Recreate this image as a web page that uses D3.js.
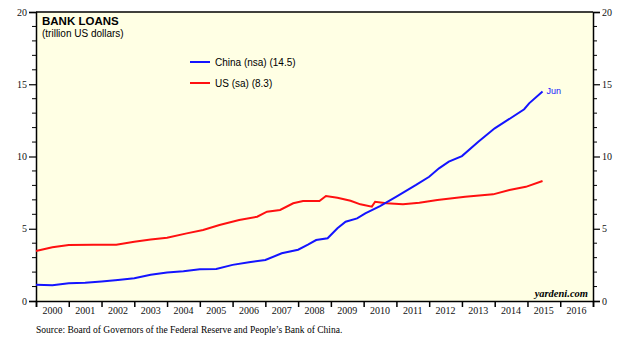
<!DOCTYPE html>
<html>
<head>
<meta charset="utf-8">
<title>Bank Loans</title>
<style type="text/css">
body { margin:0; background:#fff; }
.axis text { font-family:"Liberation Serif","Times New Roman",serif; font-size:10px; fill:#111; }
.axis path, .axis line { stroke:#000; }
.title { font-family:"Liberation Sans",Arial,sans-serif; font-weight:bold; font-size:11.5px; }
.subtitle, .legend text { font-family:"Liberation Sans",Arial,sans-serif; font-size:10px; }
.source { font-family:"Liberation Serif","Times New Roman",serif; font-size:9.5px; }
.brand { font-family:"Liberation Serif","Times New Roman",serif; font-size:10.5px; font-weight:bold; font-style:italic; }
</style>
</head>
<body>
<div id="chart"></div>
<script src="https://cdn.jsdelivr.net/npm/d3@7/dist/d3.min.js"></script>
<script type="text/javascript">

// China bank loans, trillion USD (nsa) - [decimal year, value]
var china = [
	[2000.0,1.12],[2000.5,1.09],[2001.0,1.22],[2001.5,1.27],[2002.0,1.35],[2002.5,1.45],
	[2003.0,1.57],[2003.5,1.82],[2004.0,1.98],[2004.5,2.06],[2005.0,2.2],[2005.5,2.22],
	[2006.0,2.5],[2006.5,2.68],[2007.0,2.84],[2007.5,3.3],[2008.0,3.55],[2008.3,3.9],
	[2008.55,4.22],[2008.9,4.34],[2009.2,5.03],[2009.45,5.49],[2009.8,5.72],[2010.05,6.07],
	[2010.5,6.57],[2011.0,7.22],[2011.6,8.03],[2012.0,8.6],[2012.3,9.18],[2012.6,9.64],
	[2013.0,10.03],[2013.5,11.02],[2014.0,11.95],[2014.4,12.53],[2014.9,13.27],[2015.05,13.68],
	[2015.46,14.5]
];

// US bank loans, trillion USD (sa)
var us = [
	[2000.0,3.46],[2000.5,3.72],[2001.0,3.88],[2001.75,3.9],[2002.45,3.9],[2003.0,4.1],
	[2003.5,4.25],[2004.0,4.38],[2004.6,4.68],[2005.1,4.91],[2005.6,5.26],[2006.2,5.6],
	[2006.75,5.83],[2007.05,6.18],[2007.45,6.3],[2007.85,6.76],[2008.15,6.92],[2008.65,6.92],
	[2008.85,7.27],[2009.2,7.15],[2009.6,6.94],[2009.9,6.69],[2010.25,6.53],[2010.35,6.87],
	[2010.7,6.76],[2011.2,6.69],[2011.7,6.8],[2012.25,6.99],[2013.1,7.22],[2013.95,7.38],
	[2014.45,7.68],[2014.95,7.9],[2015.46,8.3]
];

var years = d3.range(2000, 2017);
var yTicks = [0, 5, 10, 15, 20];
var legendItems = [
	{label:"China (nsa) (14.5)", color:"#1414ff"},
	{label:"US (sa) (8.3)", color:"#ff1010"}
];

var W = 640, H = 343;
var margin = {top:12, right:47, bottom:42, left:36};
var width = W - margin.left - margin.right,
	height = H - margin.top - margin.bottom;

var svg = d3.select("#chart").append("svg")
	.attr("width", W)
	.attr("height", H);

var g = svg.append("g")
	.attr("transform", "translate(" + margin.left + "," + margin.top + ")");

var x = d3.scaleLinear().domain([2000, 2017]).range([0, width]);
var y = d3.scaleLinear().domain([0, 20]).range([height, 0]);

g.append("rect")
	.attr("width", width)
	.attr("height", height)
	.attr("fill", "#ffffe4");

// minor ticks every 1, major every 5
var minor = d3.range(0, 21).filter(function(d){ return d % 5 != 0; });

function yAxis(side){
	var ax = (side == "left" ? d3.axisLeft(y) : d3.axisRight(y))
		.tickValues(yTicks).tickSize(7).tickPadding(2).tickFormat(d3.format("d"));
	var a = g.append("g").attr("class", "axis")
		.attr("transform", side == "left" ? null : "translate(" + width + ",0)")
		.call(ax);
	a.select(".domain").attr("stroke-width", 1.5);
	a.selectAll(".tick line").attr("stroke-width", 1.2);
	a.selectAll(".minor").data(minor).enter().append("line")
		.attr("class", "minor")
		.attr("x1", 0)
		.attr("x2", side == "left" ? -4 : 4)
		.attr("y1", function(d){ return y(d); })
		.attr("y2", function(d){ return y(d); })
		.attr("stroke", "#000");
}
yAxis("left");
yAxis("right");

// top frame
g.append("line")
	.attr("x1", 0).attr("x2", width)
	.attr("y1", 0).attr("y2", 0)
	.attr("stroke", "#000").attr("stroke-width", 1.5);

// bottom axis: ticks at year boundaries, labels centred in each year
var xa = g.append("g").attr("class", "axis")
	.attr("transform", "translate(0," + height + ")")
	.call(d3.axisBottom(x).tickValues(years.concat([2017])).tickSize(6).tickFormat(""));
xa.select(".domain").attr("stroke-width", 1.5);
xa.selectAll(".tick line").attr("stroke-width", 1.5);

xa.selectAll(".yr").data(years).enter().append("text")
	.attr("class", "yr")
	.attr("x", function(d){ return x(d + 0.5); })
	.attr("y", 13)
	.attr("text-anchor", "middle")
	.text(String);

var line = d3.line()
	.x(function(d){ return x(d[0]); })
	.y(function(d){ return y(d[1]); });

g.append("path").datum(us)
	.attr("d", line)
	.attr("fill", "none")
	.attr("stroke", legendItems[1].color)
	.attr("stroke-width", 2);

g.append("path").datum(china)
	.attr("d", line)
	.attr("fill", "none")
	.attr("stroke", legendItems[0].color)
	.attr("stroke-width", 2);

var last = china[china.length - 1];
g.append("text")
	.attr("class", "subtitle")
	.attr("x", x(last[0]) + 4)
	.attr("y", y(last[1]) + 3)
	.attr("fill", legendItems[0].color)
	.style("font-size", "9px")
	.text("Jun");

// titles
g.append("text").attr("class", "title")
	.attr("x", 6).attr("y", 13)
	.text("BANK LOANS");
g.append("text").attr("class", "subtitle")
	.attr("x", 6).attr("y", 25)
	.text("(trillion US dollars)");

var legend = g.selectAll(".legend")
	.data(legendItems)
	.enter().append("g")
	.attr("class", "legend")
	.attr("transform", function(d, i){ return "translate(154," + (50 + i * 21) + ")"; });

legend.append("line")
	.attr("x1", 0).attr("x2", 20)
	.attr("stroke", function(d){ return d.color; })
	.attr("stroke-width", 2);

legend.append("text")
	.attr("x", 25)
	.attr("y", 4)
	.text(function(d){ return d.label; });

g.append("text").attr("class", "brand")
	.attr("x", width - 5)
	.attr("y", height - 4)
	.attr("text-anchor", "end")
	.text("yardeni.com");

svg.append("text").attr("class", "source")
	.attr("x", 36).attr("y", 333)
	.text("Source: Board of Governors of the Federal Reserve and People\u2019s Bank of China.");

</script>
</body>
</html>
